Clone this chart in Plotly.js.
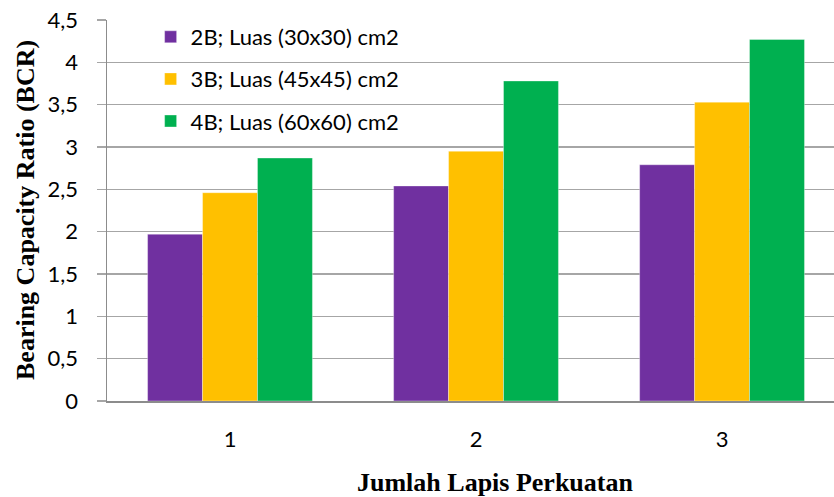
<!DOCTYPE html>
<html>
<head>
<meta charset="utf-8">
<script src="https://cdn.plot.ly/plotly-3.0.1.min.js"></script>
<style>
  html, body { margin: 0; padding: 0; background: #fff; }
  #chart { width: 834px; height: 497px; }
</style>
</head>
<body>
<div id="chart"></div>
<script>
// Jumlah lapis perkuatan (number of reinforcement layers)
const layers = [1, 2, 3];

// Series names
const seriesNames = [
  '2B; Luas (30x30) cm2',
  '3B; Luas (45x45) cm2',
  '4B; Luas (60x60) cm2'
];

// Bearing Capacity Ratio per series
const bcr2B = [1.97, 2.54, 2.79];
const bcr3B = [2.46, 2.95, 3.53];
const bcr4B = [2.87, 3.78, 4.27];

const seriesColors = ['#7030A0', '#FFC000', '#00B050'];
const seriesValues = [bcr2B, bcr3B, bcr4B];

const tickFont = { family: 'Lato, "Open Sans", sans-serif', size: 22, color: '#000' };
const titleFont = { family: '"Liberation Serif", "Times New Roman", serif', size: 26, color: '#000' };

const traces = seriesValues.map((vals, i) => ({
  type: 'bar',
  name: seriesNames[i],
  x: layers,
  y: vals,
  legendgroup: 'g' + i,
  marker: { color: seriesColors[i], line: { width: 1, color: 'rgba(255,255,255,0.35)' } },
  hoverinfo: 'skip'
}));

const layout = {
  width: 834,
  height: 497,
  margin: { l: 107, r: 0, t: 20, b: 96 },
  paper_bgcolor: '#fff',
  plot_bgcolor: '#fff',
  separators: ',.',
  barmode: 'group',
  bargap: 0.33,
  bargroupgap: 0,
  showlegend: true,
  legend: {
    x: 0.060, y: 1.0105, xanchor: 'left', yanchor: 'top',
    bgcolor: 'rgba(0,0,0,0)',
    font: tickFont,
    tracegroupgap: 10.5,
    itemwidth: 30
  },
  xaxis: {
    range: [0.5, 3.455],
    tickvals: layers,
    ticktext: layers.map(String),
    ticks: '',
    tickfont: tickFont,
    ticklabelstandoff: 18,
    showline: true,
    linecolor: '#8C8C8C',
    linewidth: 1.5,
    showgrid: false,
    zeroline: false,
    fixedrange: true
  },
  yaxis: {
    range: [0, 4.5],
    dtick: 0.5,
    tick0: 0,
    ticks: 'outside',
    ticklen: 9,
    tickcolor: '#A6A6A6',
    tickwidth: 1.5,
    tickfont: tickFont,
    ticklabelstandoff: 14,
    showline: true,
    linecolor: '#8C8C8C',
    linewidth: 1.5,
    showgrid: true,
    gridcolor: '#A6A6A6',
    gridwidth: 1.5,
    zeroline: false,
    fixedrange: true
  },
  annotations: [
    {
      text: '<b>Jumlah Lapis Perkuatan</b>',
      xref: 'paper', yref: 'paper',
      x: (495 - 107) / 727, y: -(482 - 401) / 381,
      xanchor: 'center', yanchor: 'middle',
      showarrow: false,
      font: titleFont
    },
    {
      text: '<b>Bearing Capacity Ratio (BCR)</b>',
      xref: 'paper', yref: 'paper',
      x: -(107 - 25) / 727, y: (401 - 210) / 381,
      xanchor: 'center', yanchor: 'middle',
      textangle: -90,
      showarrow: false,
      font: titleFont
    }
  ]
};

Plotly.newPlot('chart', traces, layout, { staticPlot: true, displayModeBar: false });
</script>
</body>
</html>
